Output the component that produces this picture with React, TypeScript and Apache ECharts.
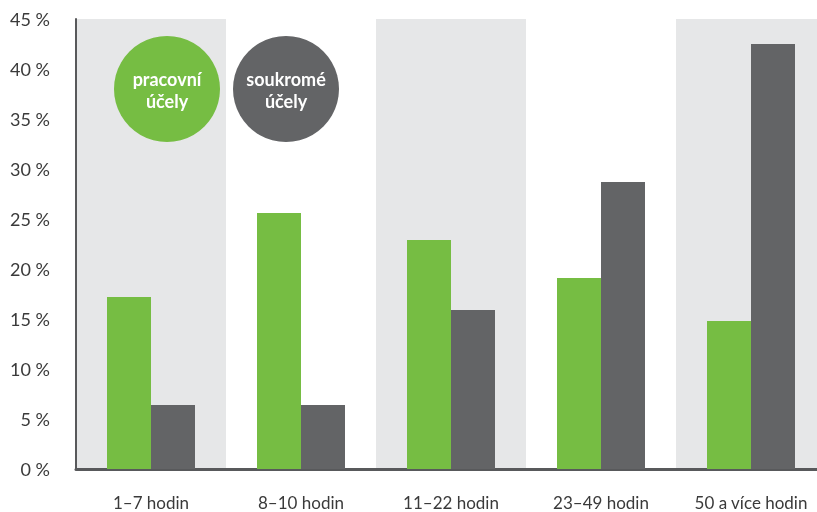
import React, { useEffect, useRef } from "react";
import * as echarts from "echarts";

const categories = ["1–7 hodin", "8–10 hodin", "11–22 hodin", "23–49 hodin", "50 a více hodin"];
const pracovni = [17.2, 25.6, 22.9, 19.1, 14.8];
const soukrome = [6.4, 6.4, 15.9, 28.7, 42.5];
const seriesNames = ["pracovní účely", "soukromé účely"];

const GREEN = "#76bd43";
const GRAY = "#636466";
const FONT = "Lato, 'DejaVu Sans', sans-serif";

export default function App() {
  const ref = useRef<HTMLDivElement>(null);
  useEffect(() => {
    if (!ref.current) return;
    const chart = echarts.init(ref.current, null, { renderer: "svg" });
    chart.setOption({
      animation: false,
      grid: { left: 76, right: 0, top: 19, bottom: 43, containLabel: false },
      xAxis: {
        type: "category",
        data: categories,
        axisLine: { show: true, lineStyle: { color: "#58595b", width: 3 } },
        axisTick: { show: false },
        axisLabel: { color: "#3a3a3a", fontSize: 17, lineHeight: 18, margin: 24, fontFamily: FONT },
        splitArea: { show: true, areaStyle: { color: ["#e6e7e8", "#ffffff"] } },
      },
      yAxis: {
        type: "value",
        min: 0,
        max: 45,
        interval: 5,
        axisLine: { show: true, lineStyle: { color: "#58595b", width: 2 } },
        axisTick: { show: false },
        axisLabel: { color: "#3a3a3a", fontSize: 18, margin: 26, formatter: "{value} %", fontFamily: FONT },
        splitLine: { show: true, lineStyle: { color: "#c8c8c8", type: [6, 5], width: 1 } },
      },
      series: [
        {
          name: seriesNames[0],
          type: "bar",
          data: pracovni,
          barWidth: 44,
          barGap: "0%",
          itemStyle: { color: GREEN },
        },
        {
          name: seriesNames[1],
          type: "bar",
          data: soukrome,
          barWidth: 44,
          barGap: "0%",
          itemStyle: { color: GRAY },
        },
      ],
      graphic: [
        { type: "circle", shape: { cx: 167, cy: 89, r: 53 }, style: { fill: GREEN }, z: 10 },
        {
          type: "text",
          x: 167,
          y: 90,
          z: 11,
          style: {
            text: "pracovní\núčely",
            fill: "#ffffff",
            font: `bold 18px ${FONT}`,
            align: "center",
            verticalAlign: "middle",
            lineHeight: 22,
          },
        },
        { type: "circle", shape: { cx: 286, cy: 89, r: 53 }, style: { fill: GRAY }, z: 10 },
        {
          type: "text",
          x: 286,
          y: 90,
          z: 11,
          style: {
            text: "soukromé\núčely",
            fill: "#ffffff",
            font: `bold 18px ${FONT}`,
            align: "center",
            verticalAlign: "middle",
            lineHeight: 22,
          },
        },
      ],
    });
    return () => chart.dispose();
  }, []);
  return (
    <div style={{ width: 817, height: 512, position: "fixed", left: 0, top: 0, overflow: "hidden" }}>
      <div ref={ref} style={{ width: 826, height: 512 }} />
    </div>
  );
}
